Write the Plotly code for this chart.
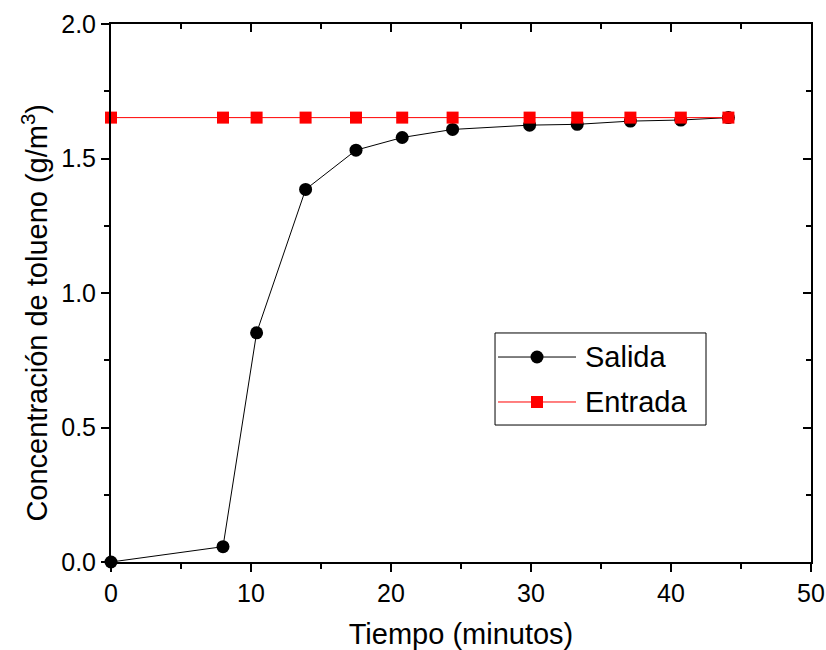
import plotly.graph_objects as go

# Tiempo (minutos) de cada muestra
tiempo = [0, 8.0, 10.4, 13.9, 17.5, 20.8, 24.4, 29.9, 33.3, 37.1, 40.7, 44.1]
# Concentración de tolueno a la salida (g/m3)
salida = [0.0, 0.057, 0.852, 1.385, 1.531, 1.578, 1.608, 1.624, 1.627, 1.639, 1.643, 1.652]
# Concentración de tolueno a la entrada (g/m3)
entrada = [1.652] * len(tiempo)

x_ticks = [0, 10, 20, 30, 40, 50]
y_ticks = [0.0, 0.5, 1.0, 1.5, 2.0]
y_tick_text = ["0.0", "0.5", "1.0", "1.5", "2.0"]

series_names = ["Salida", "Entrada"]
series_colors = ["black", "red"]
series_symbols = ["circle", "square"]

FONT = "Liberation Sans, Arial, Helvetica, sans-serif"

fig = go.Figure()

fig.add_trace(go.Scatter(
    x=tiempo, y=salida, name=series_names[0], mode="lines+markers",
    line=dict(color=series_colors[0], width=1),
    marker=dict(symbol=series_symbols[0], size=13, color=series_colors[0]),
    cliponaxis=False, showlegend=False,
))
fig.add_trace(go.Scatter(
    x=tiempo, y=entrada, name=series_names[1], mode="lines+markers",
    line=dict(color=series_colors[1], width=1),
    marker=dict(symbol=series_symbols[1], size=12, color=series_colors[1]),
    cliponaxis=False, showlegend=False,
))
# invisible carrier trace for the mirrored top/right axes
fig.add_trace(go.Scatter(
    x=tiempo, y=entrada, xaxis="x2", yaxis="y2", mode="lines",
    line=dict(width=0), opacity=0, showlegend=False, hoverinfo="skip",
))

axis_lines = dict(
    showgrid=False, zeroline=False, showline=True, automargin=False,
    linecolor="black", linewidth=2, tickcolor="black",
    tickwidth=2, ticklen=8,
)
tick_font = dict(family=FONT, size=25, color="black")

# Legend box drawn in plot-fraction coordinates (long sample lines)
box_x0, box_x1 = 0.5486, 0.85
box_y0, box_y1 = 0.2546, 0.4257
row_y = [0.381, 0.2974]
line_x0, line_x1 = 0.5529, 0.6643
mark_x = 0.6086
text_x = 0.6743

shapes = [dict(type="rect", xref="paper", yref="paper",
               x0=box_x0, x1=box_x1, y0=box_y0, y1=box_y1,
               line=dict(color="black", width=1), fillcolor="white",
               layer="above")]
annotations = []
for name, color, symbol, ry in zip(series_names, series_colors, series_symbols, row_y):
    shapes.append(dict(type="line", xref="paper", yref="paper",
                       x0=line_x0, x1=line_x1, y0=ry, y1=ry,
                       line=dict(color=color, width=1), layer="above"))
    half = 6.5 if symbol == "circle" else 6
    shapes.append(dict(type="circle" if symbol == "circle" else "rect",
                       xref="paper", yref="paper",
                       xsizemode="pixel", ysizemode="pixel",
                       xanchor=mark_x, yanchor=ry,
                       x0=-half, x1=half, y0=-half, y1=half,
                       line=dict(width=0), fillcolor=color, layer="above"))
    annotations.append(dict(xref="paper", yref="paper", x=text_x, y=ry,
                            xanchor="left", yanchor="middle", showarrow=False,
                            text=name, font=dict(family=FONT, size=29, color="black")))

# Y-axis title, placed slightly below the plot-area centre
annotations.append(dict(
    xref="paper", yref="paper", x=-0.109, y=0.463,
    xanchor="center", yanchor="middle", showarrow=False, textangle=-90,
    text="Concentración de tolueno (g/m<sup>3</sup>)",
    font=dict(family=FONT, size=29, color="black"),
))

fig.update_layout(
    width=826, height=650,
    margin=dict(l=111, r=15, t=24, b=88),
    paper_bgcolor="white", plot_bgcolor="white",
    font=dict(family=FONT, color="black"),
    xaxis=dict(
        range=[0, 50], tickvals=x_ticks, ticks="outside", tickfont=tick_font,
        minor=dict(dtick=5, tick0=0, ticks="outside", ticklen=5,
                   tickwidth=2, tickcolor="black"),
        title=dict(text="Tiempo (minutos)", font=dict(family=FONT, size=29),
                   standoff=18),
        **axis_lines,
    ),
    yaxis=dict(
        range=[0, 2.0], tickvals=y_ticks, ticktext=y_tick_text, ticks="outside",
        tickfont=tick_font,
        minor=dict(dtick=0.25, tick0=0, ticks="outside", ticklen=5,
                   tickwidth=2, tickcolor="black"),
        **axis_lines,
    ),
    xaxis2=dict(
        overlaying="x", side="top", matches="x", range=[0, 50],
        tickvals=x_ticks, ticks="inside", showticklabels=False,
        minor=dict(dtick=5, tick0=0, ticks="inside", ticklen=5,
                   tickwidth=2, tickcolor="black"),
        anchor="y",
        **axis_lines,
    ),
    yaxis2=dict(
        overlaying="y", side="right", matches="y", range=[0, 2.0],
        tickvals=y_ticks, ticks="inside", showticklabels=False,
        minor=dict(dtick=0.25, tick0=0, ticks="inside", ticklen=5,
                   tickwidth=2, tickcolor="black"),
        anchor="x",
        **axis_lines,
    ),
    shapes=shapes,
    annotations=annotations,
    showlegend=False,
)

fig.write_html("out.html")
